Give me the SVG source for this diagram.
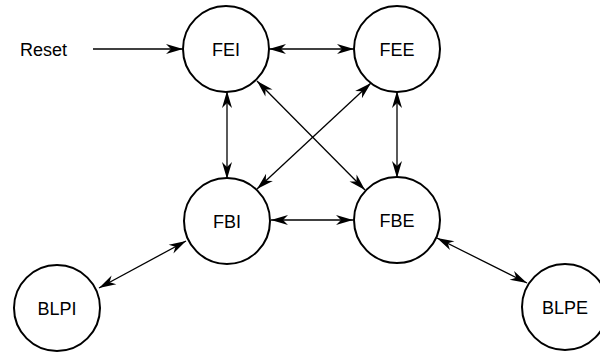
<svg xmlns="http://www.w3.org/2000/svg" width="600" height="354" viewBox="0 0 600 354">
<style>
.node circle{fill:#fff;stroke:#000;stroke-width:2}
.node text{font-family:"Liberation Sans",Arial,sans-serif;font-size:18px;fill:#000;text-anchor:middle;dominant-baseline:central}
.lbl{font-family:"Liberation Sans",Arial,sans-serif;font-size:18px;fill:#000;dominant-baseline:central}
.edges line{stroke:#000;stroke-width:1.3;fill:none}
.one{marker-end:url(#ah)}
.two{marker-start:url(#ahs);marker-end:url(#ah)}
</style>
<defs>
<marker id="ah" markerUnits="userSpaceOnUse" markerWidth="20" markerHeight="14" viewBox="-18 -7 19 14" refX="0" refY="0" orient="auto">
<path d="M0,0 L-17,-5 L-12,0 L-17,5 Z" fill="#000"/>
</marker>
<marker id="ahs" markerUnits="userSpaceOnUse" markerWidth="20" markerHeight="14" viewBox="-1 -7 19 14" refX="0" refY="0" orient="auto">
<path d="M0,0 L17,-5 L12,0 L17,5 Z" fill="#000"/>
</marker>
</defs>
<text class="lbl" x="20" y="50">Reset</text>
<g class="edges">
<line class="one" x1="93" y1="49" x2="183" y2="49"/>
<line class="two" x1="269" y1="49" x2="354" y2="49"/>
<line class="two" x1="227" y1="91" x2="227" y2="179"/>
<line class="two" x1="397" y1="91" x2="397" y2="178"/>
<line class="two" x1="271" y1="220" x2="353" y2="220"/>
<line class="two" x1="257" y1="81" x2="365" y2="190"/>
<line class="two" x1="371" y1="83" x2="257" y2="189"/>
<line class="two" x1="186" y1="241" x2="99" y2="288"/>
<line class="two" x1="437" y1="238" x2="527" y2="283"/>
</g>
<g id="FEI" class="node"><circle cx="226" cy="49" r="43"/><text x="226" y="50">FEI</text></g>
<g id="FEE" class="node"><circle cx="397" cy="49" r="43"/><text x="397" y="50">FEE</text></g>
<g id="FBI" class="node"><circle cx="227" cy="221" r="43"/><text x="227" y="222">FBI</text></g>
<g id="FBE" class="node"><circle cx="397" cy="220" r="43"/><text x="397" y="221">FBE</text></g>
<g id="BLPI" class="node"><circle cx="57" cy="308" r="43"/><text x="57" y="309">BLPI</text></g>
<g id="BLPE" class="node"><circle cx="565" cy="307" r="43"/><text x="565" y="308">BLPE</text></g>
</svg>
